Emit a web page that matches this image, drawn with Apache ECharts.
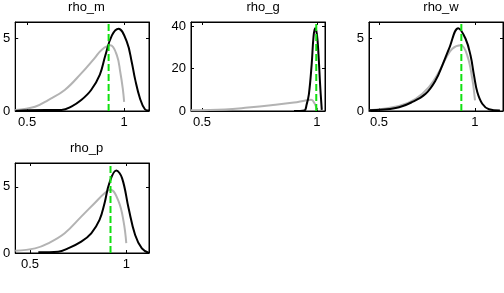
<!doctype html>
<meta charset="utf-8">
<title>rho</title>
<style>
	body { margin: 0; background: #fff; }
	#chart { width: 504px; height: 293px; }
</style>
<div id="chart"></div>
<script src="https://cdn.jsdelivr.net/npm/echarts@6/dist/echarts.min.js"></script>
<script>
	// panel titles and axis ticks
	var titles = ["rho_m", "rho_g", "rho_w", "rho_p"];
	var xTicks = [0.5, 1];
	var yTicks = [[0, 5], [0, 20, 40], [0, 5], [0, 5]];
	var xRange = [[0.439, 1.128], [0.452, 1.035], [0.448, 1.146], [0.423, 1.118]];
	var yMax = [6.1, 42, 6.1, 6.8];
	// green dashed lines (mode)
	var modes = [0.92, 0.997, 0.929, 0.918];

	// rho_m
	var mPostX = [0.44, 0.507, 0.677, 0.728, 0.779, 0.83, 0.875, 0.903, 0.937, 0.971, 1.014, 1.039, 1.056, 1.082, 1.107, 1.128];
	var mPostY = [0, 0.05, 0.07, 0.3, 0.75, 1.44, 2.5, 3.8, 5.18, 5.64, 4.73, 3.36, 2.2, 0.84, 0.12, 0.03];
	var mPriorX = [0.439, 0.541, 0.609, 0.694, 0.779, 0.847, 0.885, 0.929, 0.963, 0.98, 0.993, 1.0];
	var mPriorY = [0.07, 0.29, 0.75, 1.44, 2.58, 3.61, 4.2, 4.5, 3.8, 2.67, 1.53, 0.62];
	// rho_g
	var gPostX = [0.9, 0.945, 0.955, 0.965, 0.977, 0.985, 0.992, 1.0, 1.007, 1.014, 1.021];
	var gPostY = [0, 0.3, 3, 8, 22, 35, 39, 36, 26, 12, 0.5];
	var gPriorX = [0.452, 0.6, 0.7, 0.8, 0.9, 0.95, 0.975, 0.99, 1.0];
	var gPriorY = [0.3, 0.7, 1.6, 2.7, 4.0, 5.0, 5.3, 3.5, 0.5];
	// rho_w
	var wPostX = [0.448, 0.587, 0.674, 0.743, 0.795, 0.83, 0.865, 0.913, 0.951, 0.977, 0.995, 1.012, 1.038, 1.073, 1.13];
	var wPostY = [0.05, 0.2, 0.62, 1.18, 2.1, 3.13, 4.27, 5.68, 4.95, 3.8, 2.44, 1.3, 0.5, 0.12, 0.03];
	var wPriorX = [0.448, 0.604, 0.691, 0.76, 0.812, 0.847, 0.882, 0.926, 0.96, 0.986, 1.0];
	var wPriorY = [0.05, 0.34, 0.84, 1.64, 2.67, 3.58, 4.27, 4.5, 3.8, 2.2, 0.73];
	// rho_p
	var pPostX = [0.543, 0.646, 0.697, 0.766, 0.818, 0.861, 0.887, 0.912, 0.948, 0.978, 1.012, 1.046, 1.081, 1.118];
	var pPostY = [0.05, 0.1, 0.35, 0.86, 1.49, 2.5, 3.76, 5.28, 6.23, 5.66, 3.38, 1.36, 0.35, 0];
	var pPriorX = [0.423, 0.526, 0.594, 0.68, 0.766, 0.835, 0.887, 0.918, 0.96, 0.986, 1.0];
	var pPriorY = [0.17, 0.35, 0.73, 1.49, 2.75, 3.76, 4.52, 4.77, 3.9, 2.37, 0.75];

	var posts = [[mPostX, mPostY], [gPostX, gPostY], [wPostX, wPostY], [pPostX, pPostY]];
	var priors = [[mPriorX, mPriorY], [gPriorX, gPriorY], [wPriorX, wPriorY], [pPriorX, pPriorY]];

	// layout of the four boxes
	var boxes = [
		{ left: 14, top: 22, width: 135, height: 89 },
		{ left: 191, top: 22, width: 134, height: 89 },
		{ left: 369, top: 22, width: 134, height: 89 },
		{ left: 14, top: 163, width: 135, height: 90 }
	];

	function pairs(xs, ys) {
		return xs.map(function (x, i) { return [x, ys[i]]; });
	}

	var font = { fontFamily: "Liberation Sans", fontSize: 13, color: "#000" };
	var option = { animation: false, title: [], grid: [], xAxis: [], yAxis: [], series: [] };

	titles.forEach(function (t, i) {
		var b = boxes[i];
		option.title.push({
			text: t, left: b.left + b.width / 2, top: b.top - 26, textAlign: "center",
			textStyle: { fontFamily: "Liberation Sans", fontSize: 13, fontWeight: "normal", color: "#000" }
		});
		option.grid.push({ left: b.left, top: b.top, width: b.width, height: b.height,
			show: true, borderColor: "#000", borderWidth: 1, backgroundColor: "#fff" });
		["bottom", "top"].forEach(function (pos) {
			option.xAxis.push({
				type: "value", gridIndex: i, position: pos, min: xRange[i][0], max: xRange[i][1],
				axisLine: { show: true, onZero: false, lineStyle: { color: "#000", width: 1 } },
				axisTick: { show: true, inside: true, length: 3, customValues: xTicks, lineStyle: { color: "#000" } },
				axisLabel: Object.assign({ show: pos == "bottom", margin: 5, customValues: xTicks }, font),
				splitLine: { show: false }
			});
		});
		["left", "right"].forEach(function (pos) {
			option.yAxis.push({
				type: "value", gridIndex: i, position: pos, min: 0, max: yMax[i],
				axisLine: { show: true, onZero: false, lineStyle: { color: "#000", width: 1 } },
				axisTick: { show: true, inside: true, length: 3, customValues: yTicks[i], lineStyle: { color: "#000" } },
				axisLabel: Object.assign({ show: pos == "left", margin: 5, customValues: yTicks[i] }, font),
				splitLine: { show: false }
			});
		});
		option.series.push({
			type: "line", xAxisIndex: 2 * i, yAxisIndex: 2 * i, data: pairs(priors[i][0], priors[i][1]),
			showSymbol: false, smooth: 0.4, lineStyle: { color: "#b3b3b3", width: 2 }, z: 2
		});
		option.series.push({
			type: "line", xAxisIndex: 2 * i, yAxisIndex: 2 * i, data: pairs(posts[i][0], posts[i][1]),
			showSymbol: false, smooth: 0.4, lineStyle: { color: "#000", width: 2 }, z: 3
		});
		option.series.push({
			type: "line", xAxisIndex: 2 * i, yAxisIndex: 2 * i, data: [[modes[i], 0], [modes[i], yMax[i]]],
			showSymbol: false, lineStyle: { color: "#10e010", width: 2, type: [7, 3] }, z: 4
		});
	});

	var chart = echarts.init(document.getElementById("chart"));
	chart.setOption(option);
</script>
